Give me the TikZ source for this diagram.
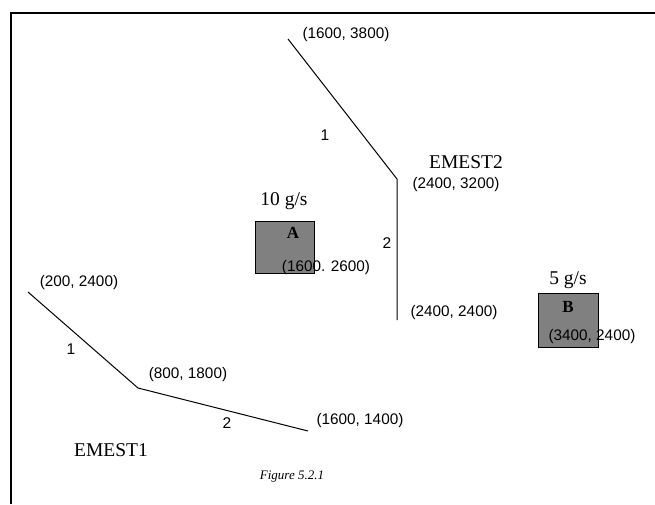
\documentclass[tikz,border=0pt]{standalone}
\usepackage{fontspec}
\setmainfont{Liberation Serif}
\newfontfamily\lblfont{Liberation Sans}
\begin{document}
\begin{tikzpicture}[x=1pt,y=-1pt,
  coordlbl/.style={font=\lblfont\fontsize{15.3}{17}\selectfont, inner sep=0pt},
  seglbl/.style={font=\lblfont\fontsize{15.5}{17}\selectfont, inner sep=0pt},
  srclbl/.style={font=\fontsize{19.5}{22}\selectfont, inner sep=0pt},
  boxlbl/.style={font=\bfseries\fontsize{17}{19}\selectfont, inner sep=0pt},
  srcbox/.style={draw=black, line width=1pt, fill=black!50, inner sep=0pt},
  road/.style={line width=1pt, black},
  frame/.style={line width=2.5pt, black}]
\useasboundingbox (0,0) rectangle (655,504);
% frame
\coordinate (fb) at (11,504);
\coordinate (fc) at (11,13);
\coordinate (fr) at (655,13);
\draw[frame] (fb) -- (fc) -- (fr);
% EMEST1
\coordinate (p1) at (28,292);
\coordinate (p2) at (138,388);
\coordinate (p3) at (308,431);
\draw[road] (p1) -- (p2) -- (p3);
\node[coordlbl] (l1) at (79,283) {(200, 2400)};
\node[coordlbl] (l2) at (188,375) {(800, 1800)};
\node[coordlbl] (l3) at (360,421) {(1600, 1400)};
\node[seglbl] (s11) at (71,349) {1};
\node[seglbl] (s12) at (227,423) {2};
\node[srclbl] (e1) at (111,450) {EMEST1};
% EMEST2
\coordinate (q1) at (288,39);
\coordinate (q2) at (397,179);
\coordinate (q3) at (397,320);
\draw[road] (q1) -- (q2) -- (q3);
\node[coordlbl] (m1) at (346,35) {(1600, 3800)};
\node[coordlbl] (m2) at (456,185) {(2400, 3200)};
\node[coordlbl] (m3) at (454,313) {(2400, 2400)};
\node[seglbl] (s21) at (325,135) {1};
\node[seglbl] (s22) at (387,243) {2};
\node[srclbl] (e2) at (466,162) {EMEST2};
% source A
\node[srcbox, minimum width=59pt, minimum height=52pt] (A) at (284.5,247) {};
\node[boxlbl] (Alab) at (293,233) {A};
\node[coordlbl] (Ac) at (326,268) {(1600. 2600)};
\node[srclbl] (Aq) at (284,201) {10 g/s};
% source B
\node[srcbox, minimum width=60pt, minimum height=54pt] (B) at (568,320) {};
\node[boxlbl] (Blab) at (568,307) {B};
\node[coordlbl] (Bc) at (592,337) {(3400, 2400)};
\node[srclbl] (Bq) at (568,280) {5 g/s};
% caption
\node[font=\itshape\fontsize{13}{15}\selectfont, inner sep=0pt] (cap) at (292,477) {Figure 5.2.1};
\end{tikzpicture}
\end{document}
